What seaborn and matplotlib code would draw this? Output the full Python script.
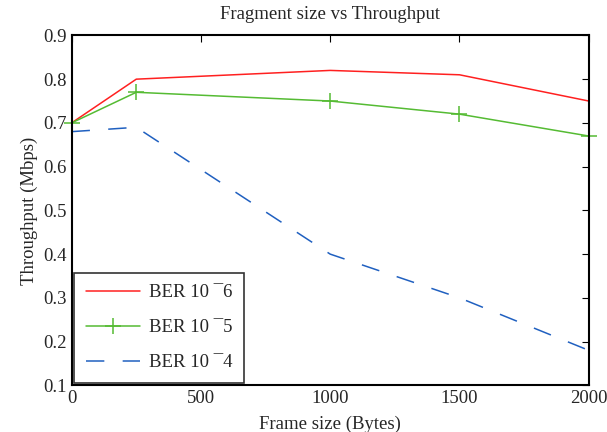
import matplotlib
matplotlib.use("Agg")
import matplotlib.pyplot as plt
import seaborn as sns
import pandas as pd

frame_size = [0, 250, 1000, 1500, 2000]
ber6 = [0.70, 0.80, 0.82, 0.81, 0.75]
ber5 = [0.70, 0.77, 0.75, 0.72, 0.67]
ber4 = [0.68, 0.69, 0.40, 0.30, 0.18]
labels = ["BER 10 \u00af6", "BER 10 \u00af5", "BER 10 \u00af4"]
colors = ["#ff2020", "#55bb33", "#2060c0"]
x_ticks = [0, 500, 1000, 1500, 2000]
y_ticks = [0.1, 0.2, 0.3, 0.4, 0.5, 0.6, 0.7, 0.8, 0.9]

sns.set_style("white")
plt.rcParams['font.family'] = ['Liberation Serif', 'DejaVu Serif']

df = pd.DataFrame({
    "x": frame_size * 3,
    "y": ber6 + ber5 + ber4,
    "s": [labels[0]] * 5 + [labels[1]] * 5 + [labels[2]] * 5,
})

fig, ax = plt.subplots(figsize=(6.07, 4.32), dpi=100)
sns.lineplot(data=df, x="x", y="y", hue="s", style="s",
             palette=dict(zip(labels, colors)),
             dashes={labels[0]: "", labels[1]: "", labels[2]: (12, 12)},
             markers={labels[0]: "", labels[1]: "+", labels[2]: ""},
             markersize=11, markeredgewidth=1.1, linewidth=1.1, ax=ax)
for ln in ax.lines:
    ln.set_markeredgecolor(ln.get_color())
    ln.set_clip_on(False)

ax.set_xlim(0, 2000)
ax.set_ylim(0.1, 0.9)
ax.set_xticks(x_ticks)
ax.set_yticks(y_ticks)
ax.set_yticklabels([f"{v:.1f}" for v in y_ticks])
ax.tick_params(direction="in", top=True, right=True, labelsize=13.5, length=5, color="black")
for sp in ax.spines.values():
    sp.set_color("black")
    sp.set_linewidth(1.5)
ax.set_xlabel("Frame size (Bytes)", fontsize=13.5, labelpad=6)
ax.set_ylabel("Throughput (Mbps)", fontsize=13.5)
ax.set_title("Fragment size vs Throughput", fontsize=13.5, pad=12)

leg = ax.legend(loc="lower left", fontsize=13.5, frameon=True, fancybox=False,
                edgecolor="black", handlelength=2.9, handletextpad=0.5,
                borderaxespad=0.15, labelspacing=0.95, borderpad=0.6)
leg.get_frame().set_linewidth(1.2)
leg.set_zorder(5)
for h in leg.legend_handles:
    h.set_markeredgecolor(h.get_color())

fig.subplots_adjust(left=0.118, right=0.97, top=0.918, bottom=0.108)
fig.savefig("out.png", dpi=100)
